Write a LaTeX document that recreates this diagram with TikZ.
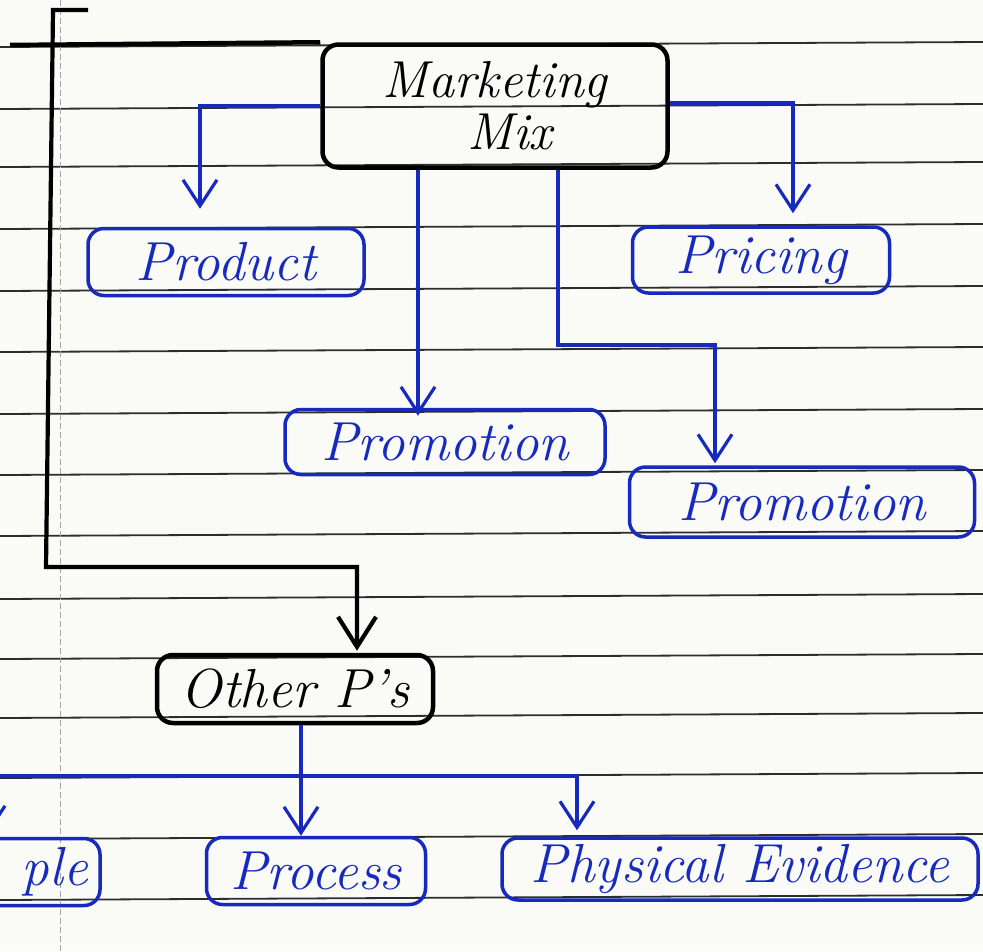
\documentclass[tikz,border=0pt]{standalone}
\usetikzlibrary{arrows.meta,calc}
\definecolor{ink}{RGB}{22,42,190}
\definecolor{paper}{RGB}{250,250,246}
\definecolor{rulecol}{RGB}{45,45,45}
\newcommand{\handfont}{\fontsize{55}{60}\selectfont\itshape}
\newcommand{\handfontmm}{\fontsize{52}{58}\selectfont\itshape}
\begin{document}
\begin{tikzpicture}[x=1pt,y=-1pt,
  bluebox/.style={draw=ink, line width=3.5pt, rounded corners=16pt, text=ink, font=\handfont, inner sep=0pt},
  blackbox/.style={draw=black, line width=4.5pt, rounded corners=16pt, text=black, font=\handfont, inner sep=0pt},
  bluearr/.style={draw=ink, line width=3.2pt, -{Straight Barb[length=26pt,width=34pt,line width=3.2pt]}},
  blackarr/.style={draw=black, line width=4.2pt, -{Straight Barb[length=30pt,width=38pt,line width=4.2pt]}},
  ruling/.style={draw=rulecol, line width=1.8pt},
  margin/.style={draw=black!35, line width=0.8pt, dash pattern=on 6pt off 3pt}]
\useasboundingbox (0,0) rectangle (983,951);
\clip (0,0) rectangle (983,951);
\fill[paper] (0,0) rectangle (983,951);
% ruled paper
\foreach \yy in {45,107,165,227,289,350,412,473,534,597,657,716,776,837,898}
  \draw[ruling] (0,\yy+2) -- (983,\yy-3);
\draw[margin] (60,0) -- (60,951);

% nodes
\node[blackbox, font=\handfontmm, minimum width=345pt, minimum height=123pt, align=center] (mm) at (495,106) {Marketing\\[-6pt]\hspace*{30pt}Mix};
\node[bluebox, minimum width=276pt, minimum height=67pt] (product) at (226,262) {Product};
\node[bluebox, minimum width=257pt, minimum height=66pt] (pricing) at (761,260) {Pricing};
\node[bluebox, minimum width=320pt, minimum height=65pt] (promoa) at (445,442) {Promotion};
\node[bluebox, minimum width=345pt, minimum height=70pt] (promob) at (802,502) {Promotion};
\node[blackbox, minimum width=276pt, minimum height=68pt] (other) at (295,689) {Other P's};
\node[bluebox, minimum width=219pt, minimum height=67pt] (process) at (316,871) {Process};
\node[bluebox, minimum width=476pt, minimum height=62pt] (physical) at (740,869) {Physical Evidence};
\node[bluebox, text width=170pt, align=right, inner xsep=12pt, minimum height=67pt] (people) at (3,872) {ple};

% helper coordinates
\coordinate (xa) at (200,0);
\coordinate (xb) at (793,0);
\coordinate (xc) at (418,0);
\coordinate (j1) at (558,345);
\coordinate (xd) at (715,0);
\coordinate (t0) at (10,45);
\coordinate (t1) at (88,10);
\coordinate (t2) at (53,10);
\coordinate (t3) at (46,567);
\coordinate (xe) at (357,0);
\coordinate (xf) at (301,0);
\coordinate (j2) at (301,776);
\coordinate (xg) at (577,0);
\coordinate (xh) at (-12,0);

% black connectors
\draw[line width=4.5pt] (t0) -- (mm.north west);
\draw[blackarr] (t1) -- (t2) -- (t3) -| ([yshift=2pt]other.north -| xe);

% blue connectors
\draw[bluearr] (mm.west) -| ([yshift=18pt]product.north -| xa);
\draw[bluearr] ([yshift=3pt]mm.east) -| ([yshift=12pt]pricing.north -| xb);
\draw[bluearr] (mm.south -| xc) -- ([yshift=-8pt]promoa.north -| xc);
\draw[bluearr] (mm.south -| j1) -- (j1) -| ([yshift=2pt]promob.north -| xd);
\draw[bluearr] (other.south -| xf) -- (process.north -| xf);
\draw[bluearr] (j2) -| ([yshift=6pt]physical.north -| xg);
\draw[bluearr] (j2) -| ([yshift=2pt]people.north -| xh);
\end{tikzpicture}
\end{document}
